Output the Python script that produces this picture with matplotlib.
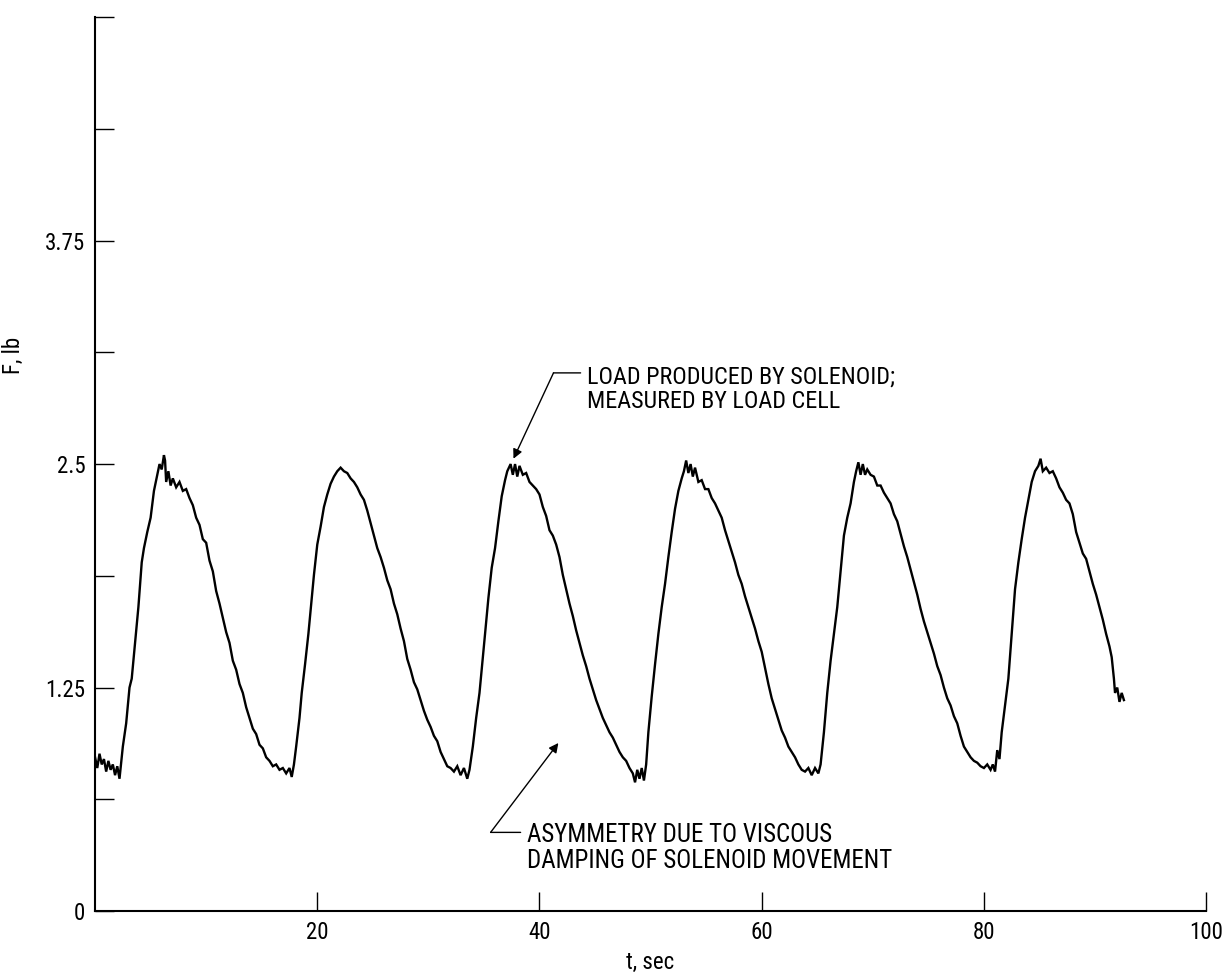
import matplotlib
matplotlib.use('Agg')
import matplotlib.pyplot as plt
from matplotlib import font_manager

# narrow sans like the original typewriter-era lettering, if there is one
installed = {f.name for f in font_manager.fontManager.ttflist}
font_pick = 'DejaVu Sans'
for name in ['Liberation Sans Narrow', 'DejaVu Sans Condensed', 'Roboto Condensed',
             'Open Sans Condensed', 'Liberation Sans', 'Roboto']:
    if name in installed:
        font_pick = name
        break
plt.rcParams['font.family'] = [font_pick, 'DejaVu Sans']

# t, sec  /  F, lb
t_sec = [
    0.0, 0.2, 0.4, 0.6, 0.8, 1.0, 1.2, 1.4, 1.6, 1.8, 2.0, 2.2, 2.3, 2.5, 2.8,
    3.1, 3.3, 3.6, 3.9, 4.2, 4.4, 4.7, 5.0, 5.3, 5.6, 5.8, 6.0, 6.2, 6.3, 6.4,
    6.6, 6.8, 7.0, 7.3, 7.6, 7.9, 8.2, 8.5, 8.8, 9.1, 9.4, 9.7, 10.0, 10.3,
    10.6, 10.9, 11.2, 11.5, 11.8, 12.1, 12.4, 12.7, 13.0, 13.3, 13.6, 13.9,
    14.2, 14.5, 14.8, 15.1, 15.4, 15.7, 16.0, 16.3, 16.6, 16.9, 17.2, 17.5,
    17.7, 17.9, 18.1, 18.4, 18.6, 18.9, 19.2, 19.5, 19.7, 20.0, 20.3, 20.6,
    20.9, 21.2, 21.5, 21.8, 22.1, 22.4, 22.7, 23.0, 23.3, 23.6, 23.9, 24.2,
    24.5, 24.8, 25.1, 25.4, 25.7, 26.0, 26.3, 26.6, 26.9, 27.2, 27.5, 27.8,
    28.1, 28.4, 28.7, 29.0, 29.3, 29.6, 29.9, 30.2, 30.5, 30.8, 31.1, 31.4,
    31.7, 32.0, 32.3, 32.6, 32.9, 33.2, 33.5, 33.7, 34.0, 34.3, 34.6, 34.8,
    35.1, 35.4, 35.7, 36.0, 36.3, 36.6, 36.9, 37.1, 37.4, 37.6, 37.8, 38.0,
    38.2, 38.5, 38.8, 39.1, 39.4, 39.7, 40.0, 40.3, 40.6, 40.9, 41.2, 41.5,
    41.8, 42.1, 42.4, 42.7, 43.0, 43.3, 43.6, 43.9, 44.2, 44.5, 44.8, 45.1,
    45.4, 45.7, 46.0, 46.3, 46.6, 46.9, 47.2, 47.5, 47.8, 48.1, 48.4, 48.6,
    48.8, 49.0, 49.2, 49.4, 49.6, 49.8, 50.1, 50.4, 50.7, 51.0, 51.3, 51.6,
    51.9, 52.2, 52.5, 52.8, 53.0, 53.2, 53.4, 53.6, 53.8, 54.0, 54.3, 54.6,
    54.9, 55.2, 55.5, 55.8, 56.1, 56.4, 56.7, 57.0, 57.3, 57.6, 57.9, 58.2,
    58.5, 58.8, 59.1, 59.4, 59.7, 60.0, 60.3, 60.6, 60.9, 61.2, 61.5, 61.8,
    62.1, 62.4, 62.7, 63.0, 63.3, 63.6, 63.9, 64.2, 64.5, 64.8, 65.1, 65.3,
    65.6, 65.9, 66.2, 66.5, 66.8, 67.1, 67.4, 67.7, 68.0, 68.3, 68.5, 68.7,
    68.9, 69.1, 69.3, 69.5, 69.8, 70.1, 70.4, 70.7, 71.0, 71.3, 71.6, 71.9,
    72.2, 72.5, 72.8, 73.1, 73.4, 73.7, 74.0, 74.3, 74.6, 74.9, 75.2, 75.5,
    75.8, 76.1, 76.4, 76.7, 77.0, 77.3, 77.6, 77.9, 78.2, 78.5, 78.8, 79.1,
    79.4, 79.7, 80.0, 80.3, 80.6, 80.8, 81.0, 81.2, 81.4, 81.6, 81.9, 82.2,
    82.5, 82.8, 83.1, 83.4, 83.7, 84.0, 84.3, 84.6, 84.9, 85.1, 85.3, 85.6,
    85.9, 86.2, 86.5, 86.8, 87.1, 87.4, 87.7, 88.0, 88.3, 88.6, 88.9, 89.2,
    89.5, 89.8, 90.1, 90.4, 90.7, 91.0, 91.3, 91.5, 91.7, 91.8, 92.0, 92.2,
    92.4, 92.6,
]
force_lb = [
    0.86, 0.80, 0.88, 0.82, 0.85, 0.78, 0.84, 0.79, 0.82, 0.76, 0.81, 0.74, 0.80, 0.92, 1.05,
    1.25, 1.30, 1.50, 1.70, 1.95, 2.03, 2.12, 2.20, 2.35, 2.44, 2.50, 2.47, 2.55, 2.52, 2.40,
    2.46, 2.38, 2.42, 2.37, 2.40, 2.35, 2.36, 2.31, 2.27, 2.20, 2.16, 2.08, 2.06, 1.96,
    1.90, 1.79, 1.72, 1.64, 1.56, 1.50, 1.40, 1.35, 1.27, 1.22, 1.14, 1.08,
    1.02, 0.99, 0.93, 0.91, 0.86, 0.84, 0.81, 0.82, 0.79, 0.80, 0.77, 0.80,
    0.75, 0.82, 0.92, 1.08, 1.22, 1.38, 1.55, 1.75, 1.88, 2.05, 2.15, 2.26,
    2.33, 2.39, 2.43, 2.46, 2.48, 2.46, 2.45, 2.42, 2.40, 2.37, 2.33, 2.30,
    2.24, 2.17, 2.10, 2.03, 1.98, 1.92, 1.85, 1.80, 1.72, 1.66, 1.58, 1.51,
    1.41, 1.35, 1.28, 1.24, 1.18, 1.12, 1.07, 1.03, 0.98, 0.95, 0.89, 0.85,
    0.81, 0.80, 0.78, 0.81, 0.76, 0.80, 0.74, 0.79, 0.92, 1.08, 1.22, 1.35,
    1.55, 1.75, 1.92, 2.03, 2.18, 2.32, 2.41, 2.46, 2.50, 2.44, 2.50, 2.43,
    2.49, 2.44, 2.45, 2.40, 2.38, 2.36, 2.33, 2.26, 2.21, 2.13, 2.10, 2.05,
    1.98, 1.88, 1.80, 1.72, 1.65, 1.57, 1.50, 1.43, 1.37, 1.30, 1.24, 1.18,
    1.13, 1.08, 1.04, 1.00, 0.97, 0.93, 0.89, 0.86, 0.84, 0.80, 0.77, 0.72,
    0.79, 0.74, 0.80, 0.73, 0.82, 1.00, 1.20, 1.38, 1.55, 1.70, 1.83, 1.98,
    2.12, 2.25, 2.35, 2.42, 2.46, 2.52, 2.45, 2.50, 2.43, 2.48, 2.40, 2.41,
    2.36, 2.36, 2.31, 2.28, 2.24, 2.20, 2.13, 2.07, 2.01, 1.95, 1.88, 1.83,
    1.76, 1.70, 1.64, 1.58, 1.51, 1.45, 1.36, 1.27, 1.19, 1.13, 1.07, 1.01,
    0.97, 0.92, 0.89, 0.86, 0.82, 0.79, 0.78, 0.80, 0.76, 0.80, 0.77, 0.82,
    1.00, 1.22, 1.40, 1.55, 1.70, 1.90, 2.10, 2.20, 2.28, 2.40, 2.46, 2.51,
    2.44, 2.50, 2.44, 2.47, 2.44, 2.43, 2.38, 2.38, 2.34, 2.31, 2.28, 2.22,
    2.18, 2.11, 2.04, 1.98, 1.91, 1.84, 1.77, 1.69, 1.62, 1.56, 1.50, 1.44,
    1.37, 1.32, 1.25, 1.19, 1.15, 1.09, 1.05, 0.98, 0.92, 0.89, 0.86, 0.84,
    0.83, 0.81, 0.80, 0.82, 0.79, 0.82, 0.78, 0.90, 0.85, 1.00, 1.15, 1.30,
    1.55, 1.80, 1.95, 2.08, 2.20, 2.30, 2.40, 2.46, 2.49, 2.53, 2.46, 2.48,
    2.45, 2.46, 2.42, 2.37, 2.34, 2.30, 2.28, 2.22, 2.12, 2.06, 2.00, 1.97,
    1.90, 1.83, 1.77, 1.70, 1.63, 1.55, 1.48, 1.42, 1.30, 1.22, 1.25, 1.17,
    1.22, 1.18,
]

y_ticks = [0, 0.625, 1.25, 1.875, 2.5, 3.125, 3.75, 4.375, 5.0]
y_tick_labels = ['0', '', '1.25', '', '2.5', '', '3.75', '', '']
x_ticks = [20, 40, 60, 80, 100]
x_tick_labels = ['20', '40', '60', '80', '100']

load_note = 'LOAD PRODUCED BY SOLENOID;\nMEASURED BY LOAD CELL'
asym_note = 'ASYMMETRY DUE TO VISCOUS\nDAMPING OF SOLENOID MOVEMENT'

fig = plt.figure(figsize=(12.25, 9.77), dpi=100)
ax = fig.add_axes([0.0776, 0.0675, 0.907, 0.915])

ax.plot(t_sec, force_lb, color='black', linewidth=1.7, solid_joinstyle='miter')

ax.set_xlim(0, 100)
ax.set_ylim(0, 5.0)
ax.set_xticks(x_ticks)
ax.set_xticklabels(x_tick_labels)
ax.set_yticks(y_ticks)
ax.set_yticklabels(y_tick_labels)
ax.tick_params(direction='in', length=14, width=1.0, labelsize=16.5, pad=7)

for side in ['top', 'right']:
    ax.spines[side].set_visible(False)
for side in ['left', 'bottom']:
    ax.spines[side].set_linewidth(1.5)

ax.set_xlabel('t, sec', fontsize=16.5, labelpad=5)
ax.set_ylabel('F, lb', fontsize=16.5)
ax.yaxis.set_label_coords(-0.063, 0.622)

# annotations with elbow leaders
arrow = dict(arrowstyle='-|>', color='black', lw=1.0, mutation_scale=14, shrinkA=0, shrinkB=0)
plain = dict(arrowstyle='-', color='black', lw=1.0, shrinkA=0, shrinkB=0)

# baseline given for the last line of each two-line note
ax.annotate('', xy=(37.66, 2.53), xytext=(41.26, 3.01), arrowprops=arrow)
ax.annotate('', xy=(43.7, 3.01), xytext=(41.26, 3.01), arrowprops=plain)
txt1 = ax.text(44.3, 2.813, load_note, fontsize=17, ha='left', va='baseline', linespacing=1.1)

ax.annotate('', xy=(41.7, 0.94), xytext=(35.6, 0.44), arrowprops=arrow)
ax.annotate('', xy=(38.3, 0.44), xytext=(35.6, 0.44), arrowprops=plain)
txt2 = ax.text(38.9, 0.2405, asym_note, fontsize=17, ha='left', va='baseline', linespacing=1.1)

# scale the notes so their width matches the original lettering (px)
renderer = fig.canvas.get_renderer()
for txt, target_w in [(txt1, 308), (txt2, 365)]:
    w = txt.get_window_extent(renderer).width
    txt.set_fontsize(17 * target_w / w)

fig.savefig('out.png', dpi=100, facecolor='white')
plt.close(fig)
